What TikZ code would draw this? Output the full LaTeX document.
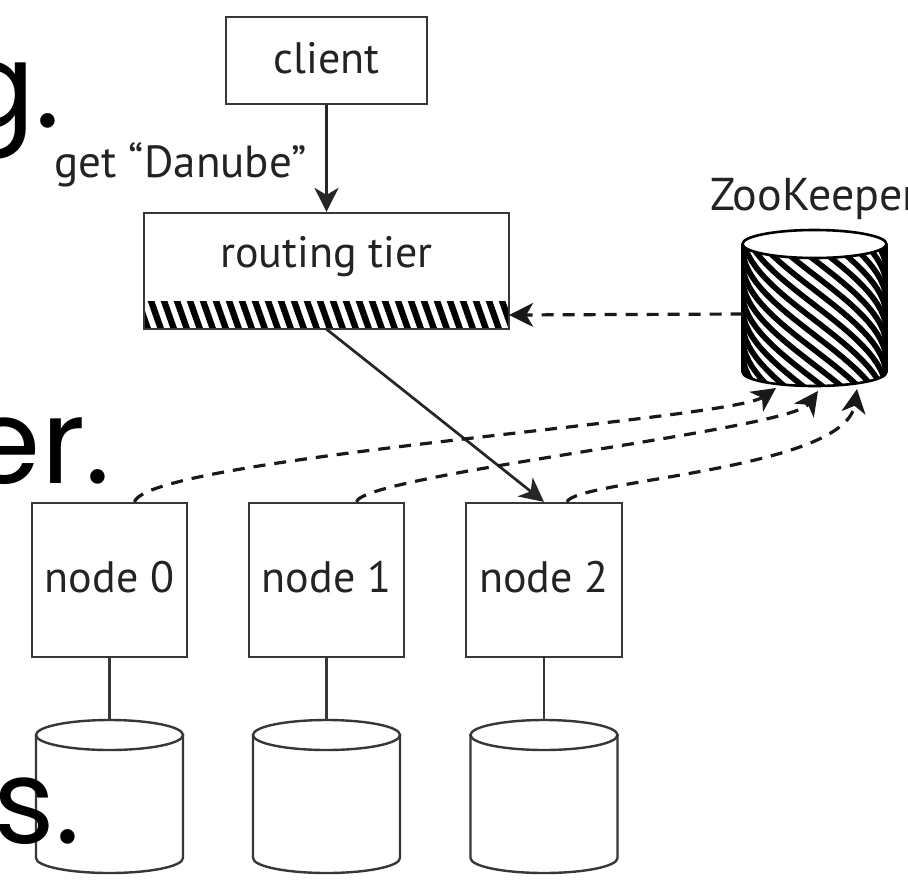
\documentclass[tikz,border=0pt]{standalone}
\usepackage{fontspec}
\setmainfont{PT Sans}
\newfontfamily\bigfont{Poppins}
\usetikzlibrary{arrows.meta}
\definecolor{boxgray}{RGB}{55,55,55}
\definecolor{txtgray}{RGB}{35,35,35}
\begin{document}
\begin{tikzpicture}[x=1pt,y=-1pt,
  box/.style={draw=boxgray, line width=2.2pt, fill=white, inner sep=0pt},
  lbl/.style={font=\fontsize{44}{50}\selectfont, text=txtgray, inner sep=0pt},
  dashline/.style={draw=black!90, line width=3.2pt, dash pattern=on 12pt off 9pt},
  arrtip/.style={-{Stealth[length=24pt,width=24pt,inset=7pt]}},
  solidline/.style={draw=black!85, line width=2.7pt},
  bigtxt/.style={font=\bigfont\fontsize{118}{130}\selectfont, inner sep=0pt, text=black}
]
\useasboundingbox (0,0) rectangle (908,879);
\fill[white] (0,0) rectangle (908,879);

% boxes
\node[box, minimum width=201pt, minimum height=87pt] (client) at (326.5,60.5) {};
\node[lbl] (clientl) at (326.5,58) {client};
\node[box, minimum width=365pt, minimum height=116pt] (rt) at (326.5,271) {};
\node[lbl] (rtl) at (326.5,257) {routing tier};
\node[inner sep=0pt, minimum width=365pt, minimum height=28pt] (band) at (326.5,315) {};
\begin{scope}
  \clip (144,301) rectangle (509,329);
  \foreach \x in {124,137,...,520} \draw[line width=6.3pt, black] (\x,298) -- (\x+12,332);
\end{scope}
\draw[boxgray, line width=2.2pt] (144,213) rectangle (509,329);

\node[box, minimum width=155pt, minimum height=154pt] (n0) at (109.5,580) {};
\node[box, minimum width=155pt, minimum height=154pt] (n1) at (326.5,580) {};
\node[box, minimum width=156pt, minimum height=154pt] (n2) at (544,580) {};
\node[lbl] (n0l) at (109.5,577) {node 0};
\node[lbl] (n1l) at (326.5,577) {node 1};
\node[lbl] (n2l) at (544,577) {node 2};

% connectors node -> cylinder
\foreach \n/\cx in {n0/109.5,n1/326.5,n2/544}{
  \coordinate (\n c) at (\cx,720);
  \draw[boxgray, line width=2.2pt] (\n.south) -- (\n c);
}
% storage cylinders
\foreach \cx in {109.5,326.5,544}{
  \draw[boxgray, line width=2.4pt, fill=white] (\cx-73.5,735) -- (\cx-73.5,858)
     arc[start angle=180, end angle=0, x radius=73.5, y radius=15] -- (\cx+73.5,735) -- cycle;
  \draw[boxgray, line width=2.4pt, fill=white] (\cx,735) ellipse[x radius=73.5, y radius=15];
}

% ZooKeeper cylinder
\begin{scope}
  \clip (0,0) rectangle (908,879);
  \node[lbl, anchor=base west, font=\fontsize{46}{52}\selectfont] (zkl) at (710,210) {ZooKeeper};
\end{scope}
\begin{scope}
  \clip (742.5,244) -- (742.5,372) arc[start angle=180, end angle=0, x radius=72, y radius=14] -- (886.5,244) -- cycle;
  \fill[white] (700,200) rectangle (900,400);
  \foreach \c in {110,125,...,510}
    \draw[line width=5.6pt, black] plot[domain=-92:92, samples=30, variable=\t] ({814.5+72*sin(\t)}, {\c+0.97*\t});
\end{scope}
\draw[black, line width=2.6pt] (742.5,244) -- (742.5,372) arc[start angle=180, end angle=0, x radius=72, y radius=14] -- (886.5,244);
\draw[black, line width=2.6pt, fill=white] (814.5,244) ellipse[x radius=72, y radius=14];
\coordinate (zkw) at (742.5,314);
\coordinate (zk1) at (776,388);
\coordinate (zk2) at (818,391);
\coordinate (zk3) at (857,389);

% arrows
\draw[solidline, arrtip] (client.south) -- (rt.north);
\node[lbl, anchor=base east, font=\fontsize{45}{50}\selectfont] (getl) at (307,177) {get “Danube”};
\draw[solidline, arrtip] (band.south) -- (n2.north);
\draw[dashline, arrtip] (zkw) -- (band.east);
\draw[dashline, arrtip] ([xshift=25pt]n0.north) .. controls (148,458) and (730,420) .. (zk1);
\draw[dashline, arrtip] ([xshift=30pt]n1.north) .. controls (362,475) and (790,430) .. (zk2);
\draw[dashline, arrtip] ([xshift=23pt]n2.north) .. controls (575,480) and (845,470) .. (zk3);

% large slide text fragments (cut at the left edge, as in the reference)
\begin{scope}
  \clip (0,0) rectangle (908,879);
  \node[bigtxt, anchor=base east] (tg) at (60,127) {g.};
  \node[bigtxt, anchor=base east] (ter) at (110,483) {er.};
  \node[bigtxt, anchor=base east] (trs) at (80,843) {rs.};
\end{scope}
\end{tikzpicture}
\end{document}
